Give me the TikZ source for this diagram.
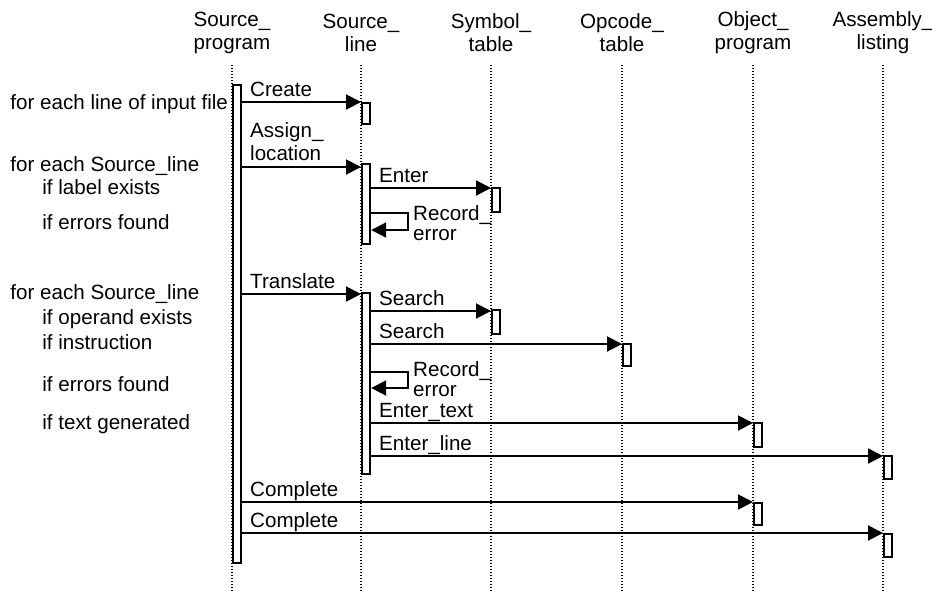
\documentclass[tikz,border=0pt]{standalone}
\usepackage{fontspec}
\setmainfont{Liberation Sans}
\usetikzlibrary{arrows.meta,positioning,calc}

\begin{document}
\begin{tikzpicture}[
  x=0.5pt, y=-0.5pt,
  every node/.style={font=\fontsize{10.3}{11.5}\selectfont},
  objhead/.style={align=center, inner sep=0pt},
  lifeline/.style={line width=0.75pt, dash pattern=on 0.6pt off 0.9pt},
  actbox/.style={
    rectangle, draw, line width=1.1pt, fill=white,
    inner sep=0pt, minimum width=4pt, anchor=north west
  },
  msg/.style={-{Triangle[length=7.5pt,width=7.5pt]}, line width=1pt},
  msglbl/.style={anchor=base west, inner sep=0pt, xshift=3.5pt, yshift=2.75pt},
  msglbltwo/.style={anchor=south west, align=left, inner sep=0pt, xshift=3.5pt, yshift=2.75pt},
  looplbl/.style={anchor=north west, align=left, inner sep=0pt, xshift=2pt, yshift=4pt,
    font=\fontsize{10.3}{10}\selectfont},
  note/.style={anchor=base west, inner sep=0pt}
]
\useasboundingbox (0,0) rectangle (932,591);

\node[objhead] (hSP) at (232,33) {Source\_\\program};
\node[objhead] (hSL) at (361,33) {Source\_\\line};
\node[objhead] (hST) at (491,33) {Symbol\_\\table};
\node[objhead] (hOT) at (622,33) {Opcode\_\\table};
\node[objhead] (hOP) at (753,33) {Object\_\\program};
\node[objhead] (hAL) at (883,33) {Assembly\_\\listing};

\foreach \h in {hSP,hSL,hST,hOT,hOP,hAL}
  \draw[lifeline] (\h |- 0,65) -- (\h |- 0,591);

\node[actbox, minimum height=239pt]  (spAct) at (hSP |- 0,84)  {};
\node[actbox, minimum height=10.5pt] (slA)   at (hSL |- 0,102) {};
\node[actbox, minimum height=40pt]   (slB)   at (hSL |- 0,163) {};
\node[actbox, minimum height=12pt]   (stA)   at (hST |- 0,187) {};
\node[actbox, minimum height=90.5pt] (slC)   at (hSL |- 0,292) {};
\node[actbox, minimum height=12pt]   (stB)   at (hST |- 0,309) {};
\node[actbox, minimum height=11pt]   (otA)   at (hOT |- 0,343) {};
\node[actbox, minimum height=12pt]   (opA)   at (hOP |- 0,422) {};
\node[actbox, minimum height=11.5pt] (alA)   at (hAL |- 0,455) {};
\node[actbox, minimum height=11pt]   (opB)   at (hOP |- 0,502) {};
\node[actbox, minimum height=11.5pt] (alB)   at (hAL |- 0,533) {};

\draw[msg] (spAct.east |- 0,102) node[msglbl] {Create} -- (slA.west |- 0,102);
\draw[msg] (spAct.east |- 0,167) node[msglbltwo] {Assign\_\\location} -- (slB.west |- 0,167);
\draw[msg] (slB.east |- 0,188) node[msglbl] {Enter} -- (stA.west |- 0,188);
\draw[msg] (slB.east |- 0,213) -- ++(37,0) node[looplbl] {Record\_\\error}
  -- ++(0,17) -- (slB.east |- 0,230);

\draw[msg] (spAct.east |- 0,294) node[msglbl] {Translate} -- (slC.west |- 0,294);
\draw[msg] (slC.east |- 0,311) node[msglbl] {Search} -- (stB.west |- 0,311);
\draw[msg] (slC.east |- 0,344) node[msglbl] {Search} -- (otA.west |- 0,344);
\draw[msg] (slC.east |- 0,372) -- ++(37,0) node[looplbl, yshift=1.5pt] {Record\_\\error}
  -- ++(0,16) -- (slC.east |- 0,388);
\draw[msg] (slC.east |- 0,423) node[msglbl] {Enter\_text} -- (opA.west |- 0,423);
\draw[msg] (slC.east |- 0,456) node[msglbl] {Enter\_line} -- (alA.west |- 0,456);

\draw[msg] (spAct.east |- 0,502) node[msglbl] {Complete} -- (opB.west |- 0,502);
\draw[msg] (spAct.east |- 0,533) node[msglbl] {Complete} -- (alB.west |- 0,533);

\node[note] (n1) at (10,109) {for each line of input file};
\node[note] (n2) at (10,171) {for each Source\_line};
\node[note] (n3) at (42,194) {if label exists};
\node[note] (n4) at (42,229) {if errors found};
\node[note] (n5) at (10,299) {for each Source\_line};
\node[note] (n6) at (42,324) {if operand exists};
\node[note] (n7) at (42,349) {if instruction};
\node[note] (n8) at (42,391) {if errors found};
\node[note] (n9) at (42,429) {if text generated};
\end{tikzpicture}
\end{document}
